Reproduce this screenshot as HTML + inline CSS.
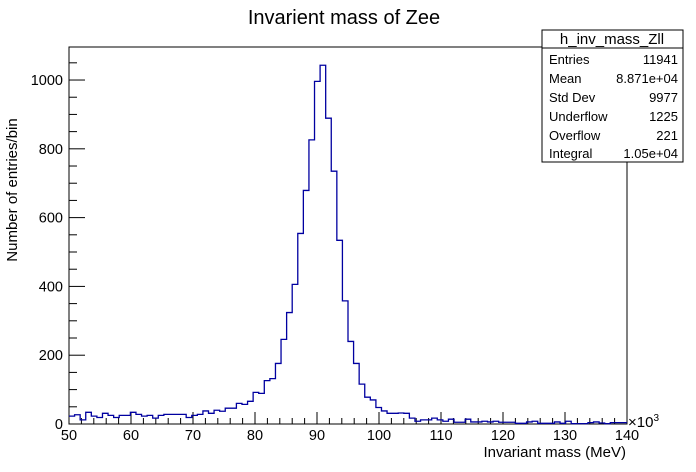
<!DOCTYPE html>
<html><head><meta charset="utf-8"><style>
body{margin:0;background:#fff;}
svg{display:block;font-family:"Liberation Sans",sans-serif;}
</style></head><body>
<svg id="c" width="696" height="472" viewBox="0 0 696 472">
<text x="344" y="24" font-size="20" text-anchor="middle">Invarient mass of Zee</text>
<rect x="69" y="47" width="558" height="377" fill="none" stroke="#000" stroke-width="1"/>
<g id="ticks"></g>
<path id="hist" fill="none" stroke="#0000a0" stroke-width="1.3"/>
<text x="626" y="457" font-size="15" text-anchor="end">Invariant mass (MeV)</text>
<text x="628" y="427" font-size="15">×10<tspan font-size="10" dy="-6">3</tspan></text>
<text transform="translate(17,190) rotate(-90)" font-size="15" text-anchor="middle">Number of entries/bin</text>
<g>
<rect x="542" y="30" width="141" height="132" fill="#fff" stroke="#000"/>
<line x1="542" y1="48" x2="683" y2="48" stroke="#000"/>
<text x="612" y="44" font-size="15" text-anchor="middle">h_inv_mass_Zll</text>
<g font-size="13">
<text x="549" y="64">Entries</text><text x="678" y="64" text-anchor="end">11941</text>
<text x="549" y="83">Mean</text><text x="678" y="83" text-anchor="end">8.871e+04</text>
<text x="549" y="102">Std Dev</text><text x="678" y="102" text-anchor="end">9977</text>
<text x="549" y="121">Underflow</text><text x="678" y="121" text-anchor="end">1225</text>
<text x="549" y="140">Overflow</text><text x="678" y="140" text-anchor="end">221</text>
<text x="549" y="158">Integral</text><text x="678" y="158" text-anchor="end">1.05e+04</text>
</g></g>
</svg>
<script>
const xMin = 50, xMax = 140;
const yMax = 1096;
const counts = [23,27,12,34,23,19,31,25,19,25,25,34,28,23,25,17,25,28,28,28,28,19,25,28,38,31,40,37,46,46,
60,57,66,92,89,126,132,176,246,324,406,554,679,826,996,1043,889,735,534,358,240,176,116,78,70,48,38,31,
31,32,31,17,8,12,12,17,12,8,14,5,5,14,6,6,8,6,8,5,5,5,2,2,6,8,2,2,2,6,2,8,1,1,1,4,6,3,1,4,4,4];
const xTicks = [50,60,70,80,90,100,110,120,130,140];
const yTicks = [0,200,400,600,800,1000];
const L=69,R=627,T=47,B=424;
const sx=v=>L+(v-xMin)/(xMax-xMin)*(R-L);
const sy=v=>B-v/yMax*(B-T);
const ns="http://www.w3.org/2000/svg";
const g=document.getElementById('ticks');
function ln(x1,y1,x2,y2){const l=document.createElementNS(ns,'line');l.setAttribute('x1',x1);l.setAttribute('y1',y1);l.setAttribute('x2',x2);l.setAttribute('y2',y2);l.setAttribute('stroke','#000');g.appendChild(l);return l;}
function tx(x,y,s,a){const t=document.createElementNS(ns,'text');t.setAttribute('x',x);t.setAttribute('y',y);t.setAttribute('font-size','14.5');t.setAttribute('text-anchor',a);t.textContent=s;g.appendChild(t);return t;}
for(let v=xMin;v<=xMax;v+=2){const x=sx(v);const major=v%10===0;const l=ln(x,B,x,B-(major?12:6));

}
xTicks.forEach(v=>{const t=tx(sx(v),440,String(v),'middle');

});
for(let v=0;v<=yMax;v+=50){const y=sy(v);const major=v%200===0;const l=ln(L,y,L+(major?16:8),y);

}
yTicks.forEach(v=>{const t=tx(63,sy(v)+5,String(v),'end');

});
const bw=(xMax-xMin)/counts.length;
let d='M'+sx(xMin)+','+sy(counts[0]);
counts.forEach((c,i)=>{const x0=sx(xMin+i*bw),x1=sx(xMin+(i+1)*bw);d+=' L'+x0+','+sy(c)+' L'+x1+','+sy(c);});
document.getElementById('hist').setAttribute('d',d);
</script>
</body></html>
